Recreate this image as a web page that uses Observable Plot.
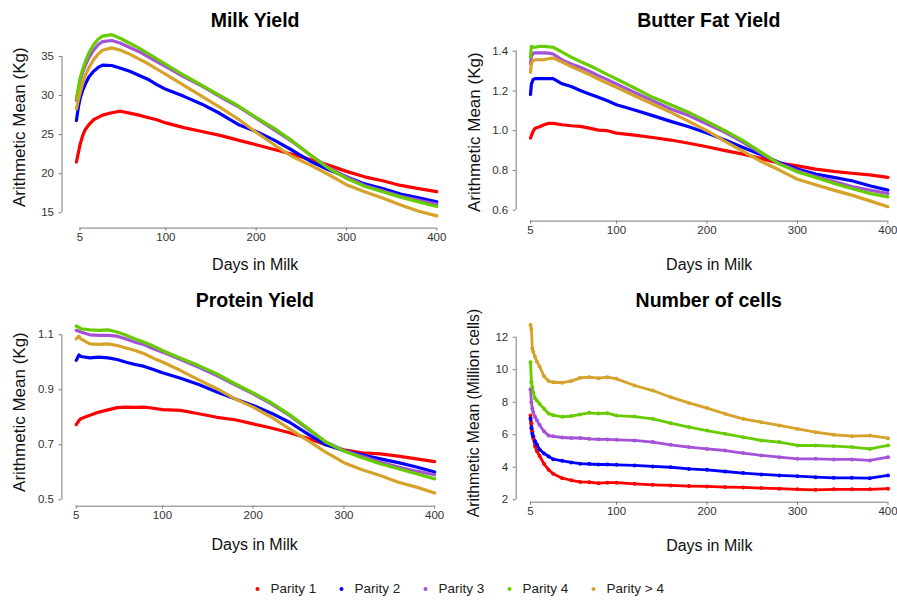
<!DOCTYPE html>
<html><head><meta charset="utf-8">
<script src="https://cdn.jsdelivr.net/npm/d3@7"></script>
<script src="https://cdn.jsdelivr.net/npm/@observablehq/plot@0.6"></script>
<style>
body{margin:0;background:#fff;}
#chart{position:relative;width:897px;height:601px;overflow:hidden;background:#fff;}
</style></head><body><div id="chart"></div>
<script>
const seriesNames = ["Parity 1","Parity 2","Parity 3","Parity 4","Parity > 4"];
const seriesColors = ["#ff0000","#0000ff","#a452d8","#66cc00","#d6a22a"];
const xTicks = [5,100,200,300,400];

// Milk Yield (Kg)
const milkDays = [1,3,5,8,11,15,20,25,30,40,50,60,70,80,90,100,120,140,160,180,200,220,240,260,280,300,320,340,360,380,400];
const milkP1 = [21.5,22.6,23.7,24.9,25.7,26.3,26.9,27.2,27.5,27.8,28.0,27.75,27.5,27.2,26.9,26.5,25.9,25.4,24.9,24.3,23.7,23.1,22.5,21.8,21.1,20.3,19.6,19.1,18.5,18.1,17.7];
const milkP2 = [26.8,28.4,29.6,30.7,31.5,32.4,33.1,33.6,33.9,33.85,33.5,33.1,32.6,32.1,31.4,30.8,29.9,28.9,27.7,26.3,25.4,24.3,23.0,21.6,20.5,19.6,18.7,18.1,17.4,16.9,16.4];
const milkP3 = [29.4,30.6,31.8,33.0,33.9,34.9,35.8,36.5,36.9,37.05,36.7,36.15,35.65,35.0,34.35,33.7,32.4,31.2,29.85,28.6,27.1,25.6,24.1,22.4,20.8,19.6,18.5,17.8,17.1,16.6,16.1];
const milkP4 = [29.6,30.9,32.2,33.4,34.4,35.5,36.5,37.2,37.6,37.8,37.3,36.7,36.1,35.4,34.7,34.0,32.6,31.3,30.0,28.7,27.2,25.8,24.2,22.4,20.7,19.4,18.4,17.7,17.0,16.4,15.8];
const milkP5 = [28.3,29.4,30.3,31.6,32.6,33.6,34.6,35.3,35.8,36.1,35.8,35.3,34.7,34.1,33.4,32.7,31.3,29.9,28.5,27.0,25.3,23.7,22.2,21.1,19.9,18.6,17.7,16.9,16.0,15.2,14.6];
const milkTicks = [15,20,25,30,35];

// Butter Fat Yield (Kg)
const fatDays = [5,6,8,10,15,20,25,30,40,50,60,70,80,90,100,120,140,160,180,200,220,240,260,280,300,320,340,360,380,400];
const fatP1 = [0.963,0.975,0.998,1.012,1.02,1.03,1.037,1.037,1.03,1.025,1.022,1.013,1.003,1.0,0.988,0.978,0.966,0.953,0.937,0.919,0.9,0.882,0.86,0.837,0.823,0.807,0.795,0.786,0.778,0.765];
const fatP2 = [1.181,1.235,1.258,1.262,1.262,1.262,1.262,1.262,1.236,1.222,1.202,1.185,1.168,1.151,1.131,1.104,1.076,1.047,1.02,0.988,0.953,0.916,0.879,0.84,0.807,0.782,0.765,0.748,0.723,0.701];
const fatP3 = [1.336,1.375,1.388,1.392,1.392,1.392,1.39,1.386,1.356,1.336,1.319,1.299,1.277,1.257,1.235,1.193,1.151,1.109,1.076,1.034,0.992,0.941,0.886,0.835,0.798,0.77,0.745,0.719,0.701,0.684];
const fatP4 = [1.37,1.425,1.42,1.42,1.424,1.424,1.422,1.42,1.395,1.37,1.348,1.328,1.306,1.282,1.26,1.215,1.168,1.131,1.092,1.047,1.0,0.95,0.891,0.832,0.793,0.765,0.736,0.709,0.684,0.667];
const fatP5 = [1.294,1.34,1.353,1.356,1.357,1.358,1.362,1.366,1.345,1.323,1.303,1.282,1.26,1.239,1.218,1.176,1.134,1.092,1.047,1.0,0.946,0.896,0.845,0.802,0.756,0.728,0.701,0.676,0.647,0.617];
const fatTicks = [0.6,0.8,1.0,1.2,1.4];

// Protein Yield (Kg)
const protDays = [5,8,10,20,30,40,50,60,70,80,90,100,120,140,160,180,200,220,240,260,280,300,320,340,360,380,400];
const protP1 = [0.773,0.788,0.795,0.807,0.819,0.827,0.835,0.837,0.836,0.837,0.833,0.828,0.825,0.813,0.8,0.791,0.776,0.761,0.744,0.724,0.7,0.682,0.671,0.667,0.659,0.649,0.639];
const protP2 = [1.007,1.027,1.021,1.016,1.019,1.016,1.01,1.0,0.992,0.985,0.974,0.962,0.942,0.919,0.892,0.867,0.843,0.815,0.782,0.74,0.7,0.679,0.664,0.649,0.635,0.619,0.601];
const protP3 = [1.116,1.113,1.11,1.1,1.098,1.098,1.095,1.085,1.073,1.064,1.049,1.037,1.01,0.982,0.952,0.918,0.885,0.849,0.807,0.758,0.71,0.679,0.658,0.637,0.619,0.604,0.591];
const protP4 = [1.132,1.127,1.122,1.118,1.116,1.118,1.11,1.098,1.085,1.073,1.059,1.043,1.015,0.988,0.958,0.922,0.889,0.853,0.81,0.761,0.71,0.677,0.653,0.631,0.613,0.595,0.576];
const protP5 = [1.085,1.095,1.085,1.067,1.065,1.067,1.061,1.052,1.043,1.031,1.015,1.001,0.97,0.936,0.904,0.867,0.837,0.801,0.758,0.716,0.673,0.635,0.609,0.588,0.564,0.546,0.525];
const protTicks = [0.5,0.7,0.9,1.1];

// Number of cells (Million cells)
const cellDays = [5,6,7,8,10,12,15,20,25,30,40,50,60,70,80,90,100,120,140,160,180,200,220,240,260,280,300,320,340,360,380,400];
const cellP1 = [7.18,6.7,6.2,5.8,5.3,5.0,4.7,4.2,3.85,3.6,3.33,3.2,3.1,3.08,3.02,3.05,3.05,2.98,2.92,2.88,2.84,2.82,2.78,2.76,2.72,2.68,2.64,2.61,2.64,2.64,2.64,2.68];
const cellP2 = [7.0,6.4,6.06,5.9,5.6,5.4,5.1,4.85,4.66,4.5,4.4,4.3,4.22,4.2,4.17,4.17,4.15,4.11,4.05,4.0,3.9,3.84,3.74,3.64,3.56,3.5,3.45,3.39,3.35,3.35,3.33,3.5];
const cellP3 = [8.8,8.0,7.6,7.4,7.1,6.9,6.6,6.2,5.95,5.9,5.83,5.8,5.8,5.75,5.72,5.71,5.69,5.65,5.55,5.38,5.24,5.13,5.03,4.87,4.73,4.62,4.52,4.52,4.48,4.48,4.42,4.62];
const cellP4 = [10.46,9.23,8.9,8.6,8.25,8.1,7.9,7.6,7.3,7.2,7.1,7.15,7.25,7.35,7.3,7.33,7.18,7.12,6.98,6.71,6.47,6.26,6.06,5.85,5.65,5.55,5.34,5.34,5.3,5.24,5.13,5.34];
const cellP5 = [12.76,12.5,11.3,11.1,10.8,10.5,10.2,9.6,9.3,9.23,9.2,9.3,9.5,9.54,9.48,9.54,9.44,9.03,8.72,8.31,7.96,7.64,7.29,6.98,6.77,6.57,6.36,6.16,6.0,5.91,5.95,5.79];
const cellTicks = [2,4,6,8,10,12];

const FONT = '"Liberation Sans", Arial, Helvetica, sans-serif';
const axisColor = "#7a7a7a";
const labelColor = "#333";
const W = 920, H = 601;

const panels = [
  {title: "Milk Yield", ylab: "Arithmetic Mean (Kg)", ylabSize: 17, days: milkDays,
   series: [milkP1, milkP2, milkP3, milkP4, milkP5], yTicks: milkTicks, fmt: d3.format("d"),
   usrX: [-14.96, 415.96], usrY: [13.04, 38.96], box: [61.5, 450.7, 25.05, 227.6],
   t: [-1.5, 1.65], xl: [-1.4, 41.7], yl: [-42, 0.4], sw: 3.2},
  {title: "Butter Fat Yield", ylab: "Arithmetic Mean (Kg)", ylabSize: 17, days: fatDays,
   series: [fatP1, fatP2, fatP3, fatP4, fatP5], yTicks: fatTicks, fmt: d3.format(".1f"),
   usrX: [-10.8, 415.8], usrY: [0.5452, 1.4848], box: [515.7, 901.7, 33.85, 220.6],
   t: [-0.4, -7.15], xl: [0, 48.7], yl: [-41.7, 4.5], sw: 3.2},
  {title: "Protein Yield", ylab: "Arithmetic Mean (Kg)", ylabSize: 17, days: protDays,
   series: [protP1, protP2, protP3, protP4, protP5], yTicks: protTicks, fmt: d3.format(".1f"),
   usrX: [-10.8, 415.8], usrY: [0.4767, 1.176], box: [61.4, 448.5, 313.4, 505.7],
   t: [-0.7, -6.7], xl: [-0.8, 43.6], yl: [-41.9, 2], sw: 3.2},
  {title: "Number of cells", ylab: "Arithmetic Mean (Million cells)", ylabSize: 15.7, days: cellDays,
   series: [cellP1, cellP2, cellP3, cellP4, cellP5], yTicks: cellTicks, fmt: d3.format("d"),
   usrX: [-10.8, 415.8], usrY: [1.85, 13.3], box: [515.7, 901.8, 315.6, 501.7],
   t: [-0.5, -8.9], xl: [0, 48.3], yl: [-42, 3.9], sw: 2.8, dots: true}
];

const chart = document.getElementById("chart");
const svgStyle = {position: "absolute", left: "0px", top: "0px", background: "transparent",
  maxWidth: "none", overflow: "visible", fontFamily: FONT, fontSize: "11.5px", color: labelColor};

for (const p of panels) {
  const rows = p.series.flatMap((vals, i) => p.days.map((d, j) => ({day: d, value: vals[j], parity: seriesNames[i]})));
  const marks = [
    Plot.ruleY([p.usrY[0]], {x1: xTicks[0], x2: xTicks[xTicks.length - 1], stroke: axisColor}),
    Plot.ruleX([p.usrX[0]], {y1: p.yTicks[0], y2: p.yTicks[p.yTicks.length - 1], stroke: axisColor}),
    Plot.axisX({ticks: xTicks, label: null, tickSize: 3, tickPadding: 2, stroke: axisColor, fill: labelColor}),
    Plot.axisY({ticks: p.yTicks, label: null, tickSize: 3, tickPadding: 5, tickFormat: p.fmt, stroke: axisColor, fill: labelColor}),
    Plot.line(rows, {x: "day", y: "value", z: "parity", stroke: "parity", strokeWidth: p.sw, strokeLinejoin: "round", strokeLinecap: "round"})
  ];
  if (p.dots) marks.push(Plot.dot(rows, {x: "day", y: "value", fill: "parity", r: 2}));
  marks.push(
    Plot.text([p.title], {frameAnchor: "top", dx: p.t[0], dy: p.t[1], lineAnchor: "bottom", fontWeight: "bold", fontSize: 19.5, fill: "#000"}),
    Plot.text(["Days in Milk"], {frameAnchor: "bottom", dx: p.xl[0], dy: p.xl[1], lineAnchor: "bottom", fontSize: 16, fill: "#111"}),
    Plot.text([p.ylab], {frameAnchor: "left", dx: p.yl[0], dy: p.yl[1], rotate: -90, textAnchor: "middle", lineAnchor: "middle", fontSize: p.ylabSize, fill: "#111"})
  );
  const svg = Plot.plot({
    width: W, height: H,
    marginLeft: p.box[0], marginRight: W - p.box[1], marginTop: p.box[2], marginBottom: H - p.box[3],
    x: {domain: p.usrX, axis: null},
    y: {domain: p.usrY, axis: null},
    color: {domain: seriesNames, range: seriesColors},
    style: svgStyle,
    marks
  });
  chart.appendChild(svg);
}

const legend = Plot.plot({
  width: 897, height: 27, margin: 0,
  x: {type: "point", domain: seriesNames, range: [255, 594], padding: 0, axis: null},
  color: {domain: seriesNames, range: seriesColors},
  style: {...svgStyle, top: "575px"},
  marks: [
    Plot.dot(seriesNames, {x: d => d, fill: d => d, r: 2, frameAnchor: "middle"}),
    Plot.text(seriesNames, {x: d => d, text: d => d, dx: 13, textAnchor: "start", lineAnchor: "middle", frameAnchor: "middle", fontSize: 13.5, fill: "#222"})
  ]
});
chart.appendChild(legend);
</script>
</body></html>
